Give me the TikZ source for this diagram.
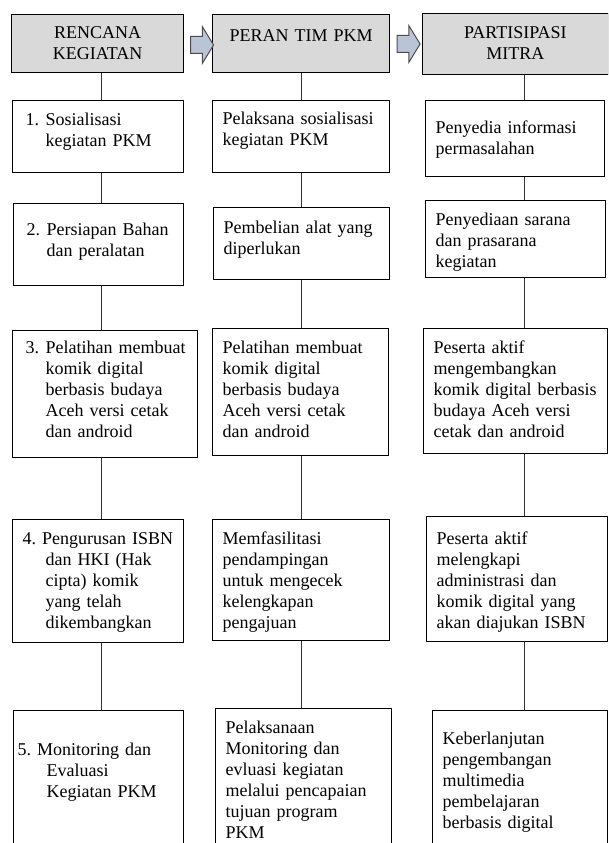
\documentclass[tikz,border=0pt]{standalone}
\usepackage{fontspec}
\setmainfont{Liberation Serif}
\usepackage{xcolor}
\usepackage{tikz}
\usetikzlibrary{shapes.arrows}

\definecolor{headgray}{RGB}{217,217,217}
\definecolor{arrowblue}{RGB}{185,196,214}

\newcommand{\itemno}[1]{\makebox[23pt][l]{\hspace*{3pt}#1}}
\newcommand{\itemind}{\hspace*{23pt}}

\begin{document}
\begin{tikzpicture}[x=1pt, y=-1pt,
    box/.style={draw, line width=1.2pt, anchor=north west, align=left, inner xsep=10pt, inner ysep=0pt, font=\fontsize{18}{21}\selectfont\frenchspacing},
    head/.style={box, fill=headgray, align=center},
    boxsize/.style n args={3}{text width=#1pt-20pt, text height=#3pt, text depth=#2pt-#3pt},
    blockarrow/.style={single arrow, draw=black!70, fill=arrowblue, line width=1pt, inner xsep=0pt, inner ysep=8pt, minimum height=23pt, single arrow head extend=10pt, single arrow tip angle=117},
    link/.style={draw=black!80, line width=1pt}]
    \useasboundingbox (0,0) rectangle (608,843);
    \clip (0,0) rectangle (608,843);

    % Headers
    \node[head, boxsize={172}{58}{23.5}] (h1) at (11,14) {RENCANA\\KEGIATAN};
    \node[head, boxsize={177}{58}{26.5}] (h2) at (212,14) {PERAN TIM PKM};
    \node[head, boxsize={185.5}{61}{25}] (h3) at (422,13) {PARTISIPASI\\MITRA};

    % Arrows
    \node[blockarrow] (a1) at (199.5,45) {};
    \node[blockarrow] (a2) at (406,44) {};

    % Rencana kegiatan
    \node[box, boxsize={171}{72}{25}] (r1) at (12,100) {\itemno{1.}Sosialisasi\\\itemind kegiatan PKM};
    \node[box, boxsize={170}{82}{32}] (r2) at (13,203) {\itemno{2.}Persiapan Bahan\\\itemind dan peralatan};
    \node[box, boxsize={185}{127}{23}] (r3) at (12,330) {\itemno{3.}Pelatihan membuat\\\itemind komik digital\\\itemind berbasis budaya\\\itemind Aceh versi cetak\\\itemind dan android};
    \node[box, boxsize={171}{123}{25}] (r4) at (12,519) {4. Pengurusan ISBN\\\itemind dan HKI (Hak\\\itemind cipta) komik\\\itemind yang telah\\\itemind dikembangkan};
    \node[box, boxsize={170}{140}{45}] (r5) at (13,710) {\hspace*{-6pt}5. Monitoring dan\\\itemind Evaluasi\\\itemind Kegiatan PKM};

    % Peran tim PKM
    \node[box, boxsize={177}{72}{24}] (p1) at (212,100) {Pelaksana sosialisasi\\kegiatan PKM};
    \node[box, boxsize={176}{72}{26}] (p2) at (213,207) {Pembelian alat yang\\diperlukan};
    \node[box, boxsize={176}{127}{25}] (p3) at (212,328) {Pelatihan membuat\\komik digital\\berbasis budaya\\Aceh versi cetak\\dan android};
    \node[box, boxsize={177}{121}{25}] (p4) at (212,519) {Memfasilitasi\\pendampingan\\untuk mengecek\\kelengkapan\\pengajuan};
    \node[box, boxsize={176}{142}{25}] (p5) at (215,708) {Pelaksanaan\\Monitoring dan\\evluasi kegiatan\\melalui pencapaian\\tujuan program\\PKM};

    % Partisipasi mitra
    \node[box, boxsize={179}{76}{33}] (m1) at (425,100) {Penyedia informasi\\permasalahan};
    \node[box, boxsize={180}{77}{25}] (m2) at (425,200) {Penyediaan sarana\\dan prasarana\\kegiatan};
    \node[box, boxsize={184}{125}{25}] (m3) at (423,328) {Peserta aktif\\mengembangkan\\komik digital berbasis\\budaya Aceh versi\\cetak dan android};
    \node[box, boxsize={181}{125}{28}] (m4) at (426,516) {Peserta aktif\\melengkapi\\administrasi dan\\komik digital yang\\akan diajukan ISBN};
    \node[box, boxsize={175}{142}{34}] (m5) at (432,710) {Keberlanjutan\\pengembangan\\multimedia\\pembelajaran\\berbasis digital};

    % Connectors
    \coordinate (x1) at (101,0);
    \coordinate (x2) at (301,0);
    \coordinate (x3) at (524,0);
    \draw[link] (h1.south -| x1) -- (r1.north -| x1);
    \draw[link] (r1.south -| x1) -- (r2.north -| x1);
    \draw[link] (r2.south -| x1) -- (r3.north -| x1);
    \draw[link] (r3.south -| x1) -- (r4.north -| x1);
    \draw[link] (r4.south -| x1) -- (r5.north -| x1);
    \draw[link] (h2.south -| x2) -- (p1.north -| x2);
    \draw[link] (p1.south -| x2) -- (p2.north -| x2);
    \draw[link] (p2.south -| x2) -- (p3.north -| x2);
    \draw[link] (p3.south -| x2) -- (p4.north -| x2);
    \draw[link] (p4.south -| x2) -- (p5.north -| x2);
    \draw[link] (h3.south -| x3) -- (m1.north -| x3);
    \draw[link] (m1.south -| x3) -- (m2.north -| x3);
    \draw[link] (m2.south -| x3) -- (m3.north -| x3);
    \draw[link] (m3.south -| x3) -- (m4.north -| x3);
    \draw[link] (m4.south -| x3) -- (m5.north -| x3);
\end{tikzpicture}
\end{document}
